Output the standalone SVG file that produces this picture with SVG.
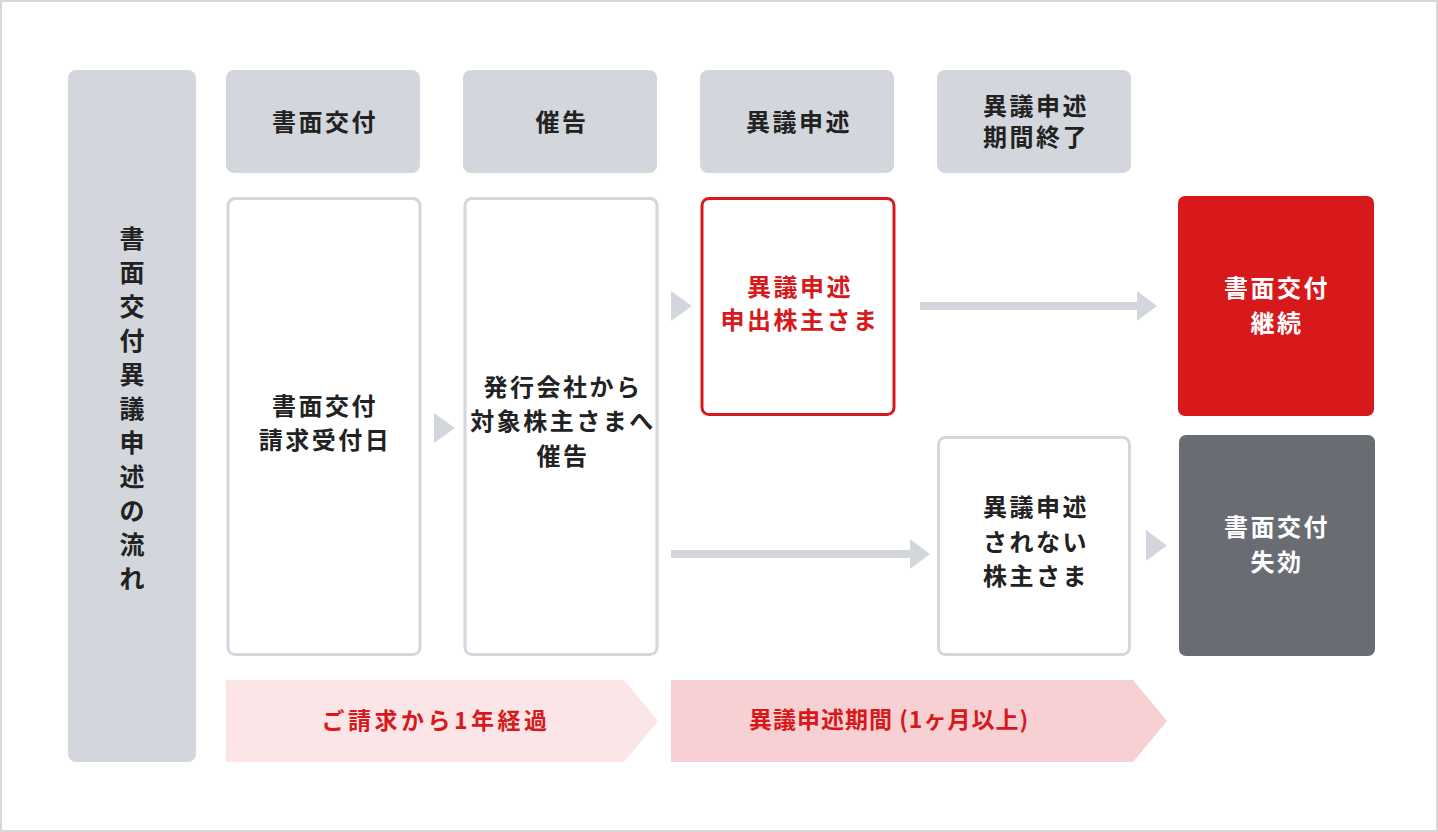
<svg xmlns="http://www.w3.org/2000/svg" width="1438" height="832" viewBox="0 0 1438 832">
<style>
text{font-family:"Noto Sans CJK JP","Noto Sans",sans-serif;font-size:24px;font-weight:700;text-anchor:middle;letter-spacing:2.5px}
.dk{fill:#222}
.wh{fill:#fff}
.rd{fill:#d7191c}
.hdr{fill:#d3d6dc}
.box{fill:#fff;stroke:#d3d6dc;stroke-width:3}
.tri{fill:#d3d6dc}
</style>
<rect x="1" y="1" width="1436" height="830" fill="#fff" stroke="#d5d7dd" stroke-width="2"/>
<g id="side">
<rect x="68" y="70" width="128" height="692" rx="8" class="hdr"/>
<text class="dk" x="132" style="font-size:25px;letter-spacing:0"><tspan x="132" y="248">書</tspan><tspan x="132" dy="34">面</tspan><tspan x="132" dy="34">交</tspan><tspan x="132" dy="34">付</tspan><tspan x="132" dy="34">異</tspan><tspan x="132" dy="34">議</tspan><tspan x="132" dy="34">申</tspan><tspan x="132" dy="34">述</tspan><tspan x="132" dy="34">の</tspan><tspan x="132" dy="34">流</tspan><tspan x="132" dy="34">れ</tspan></text>
</g>
<g id="h1"><rect x="226" y="70" width="194" height="103" rx="8" class="hdr"/><text class="dk" x="325" y="131">書面交付</text></g>
<g id="h2"><rect x="463" y="70" width="194" height="103" rx="8" class="hdr"/><text class="dk" x="562" y="131">催告</text></g>
<g id="h3"><rect x="700" y="70" width="194" height="103" rx="8" class="hdr"/><text class="dk" x="799" y="131">異議申述</text></g>
<g id="h4"><rect x="937" y="70" width="194" height="103" rx="8" class="hdr"/><text class="dk" x="1036" y="115">異議申述</text><text class="dk" x="1036" y="146">期間終了</text></g>

<g id="n1"><rect x="228" y="198.5" width="192" height="456" rx="7" class="box"/><text class="dk" x="325" y="415">書面交付</text><text class="dk" x="325" y="449">請求受付日</text></g>
<g id="n2"><rect x="465" y="198.5" width="192" height="456" rx="7" class="box"/><text class="dk" x="563" y="396">発行会社から</text><text class="dk" x="563" y="430">対象株主さまへ</text><text class="dk" x="563" y="465">催告</text></g>
<g id="n3"><rect x="702" y="198.5" width="192" height="216" rx="7" fill="#fff" stroke="#d7191c" stroke-width="3"/><text class="rd" x="800" y="296">異議申述</text><text class="rd" x="800" y="329">申出株主さま</text></g>
<g id="n4"><rect x="938.5" y="437.5" width="191" height="217" rx="7" class="box"/><text class="dk" x="1036" y="516">異議申述</text><text class="dk" x="1036" y="551">されない</text><text class="dk" x="1036" y="585">株主さま</text></g>
<g id="n5"><rect x="1178" y="196" width="196" height="220" rx="7" fill="#d7191c"/><text class="wh" x="1277" y="297">書面交付</text><text class="wh" x="1277" y="332">継続</text></g>
<g id="n6"><rect x="1179" y="435" width="196" height="221" rx="7" fill="#6a6c74"/><text class="wh" x="1277" y="536">書面交付</text><text class="wh" x="1277" y="571">失効</text></g>

<g id="connectors">
<polygon class="tri" points="434,413 455,428 434,443"/>
<polygon class="tri" points="671,291 692,306 671,321"/>
<polygon class="tri" points="1146,530 1167,545.5 1146,561"/>
<rect x="920" y="302" width="220" height="8" class="tri"/>
<polygon class="tri" points="1137,291 1157,306 1137,321"/>
<rect x="671" y="550" width="243" height="8" class="tri"/>
<polygon class="tri" points="910,539 930,554 910,569"/>
</g>

<g id="period1"><polygon points="226,680 624,680 658,721 624,762 226,762" fill="#fbe5e7"/><text class="rd" x="436" y="729" style="font-size:23px;letter-spacing:3.5px">ご請求から1年経過</text></g>
<g id="period2"><polygon points="671,680 1133,680 1167,721 1133,762 671,762" fill="#f6d0d2"/><text class="rd" x="889" y="728" style="font-size:23px;letter-spacing:1px">異議申述期間 (1ヶ月以上)</text></g>
</svg>
